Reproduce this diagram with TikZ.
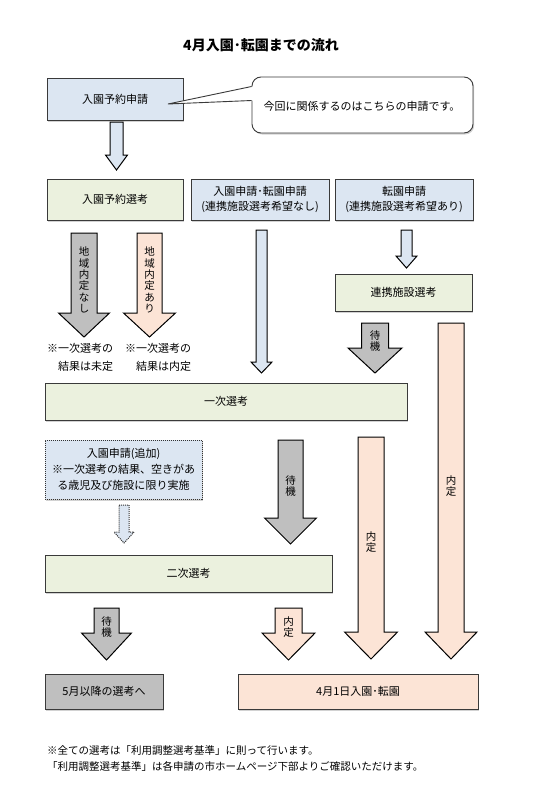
\documentclass[tikz,border=0pt]{standalone}
\usepackage{fontspec}
\setmainfont{Noto Sans CJK JP}
\usetikzlibrary{shadows}
\definecolor{bfill}{HTML}{DCE6F2}
\definecolor{gfill}{HTML}{EBF1DE}
\definecolor{ofill}{HTML}{FCE4D6}
\definecolor{kfill}{HTML}{BFBFBF}
\definecolor{edgec}{HTML}{3A3A3A}
\newcommand\blockarr[7]{%
  \draw[#1] ({#2-#3},#5) -- ({#2+#3},#5) -- ({#2+#3},#6) -- ({#2+#4},#6) -- (#2,#7) -- ({#2-#4},#6) -- ({#2-#3},#6) -- cycle;}
\begin{document}
\begin{tikzpicture}[x=1pt,y=-1pt,
  box/.style={draw=edgec, line width=0.9pt, inner sep=0pt, align=center,
    font=\fontsize{11}{15}\selectfont,
    drop shadow={shadow xshift=1.2pt, shadow yshift=-1.5pt, opacity=0.35}},
  bluebox/.style={box, fill=bfill},
  greenbox/.style={box, fill=gfill},
  orangebox/.style={box, fill=ofill},
  graybox/.style={box, fill=kfill},
  arr/.style={draw=black, line width=1pt, line join=miter},
  barr/.style={arr, fill=bfill},
  garr/.style={arr, fill=kfill},
  oarr/.style={arr, fill=ofill},
  darr/.style={draw=black!80, line width=1pt, densely dotted, fill=bfill},
  vtext/.style={inner sep=0pt, align=center, font=\fontsize{10.5}{11.3}\selectfont},
  note/.style={inner sep=0pt, align=left, anchor=west, font=\fontsize{11}{18}\selectfont},
]
\useasboundingbox (0,0) rectangle (556,800);
\fill[white] (0,0) rectangle (556,800);

% title
\node[font=\fontsize{14}{16}\selectfont\bfseries] (title) at (261,45) {4月入園･転園までの流れ};

% top row
\node[bluebox, minimum width=136pt, minimum height=42pt] (req) at (115,99) {入園予約申請};
\node[draw=edgec, line width=0.9pt, fill=white, rounded corners=9pt,
  minimum width=221pt, minimum height=56pt, inner sep=0pt,
  drop shadow={shadow xshift=1.2pt, shadow yshift=-1.5pt, opacity=0.35}]
  (callout) at (362.5,105) {};
\coordinate (ptip) at (168,104);
\fill[white] (ptip) -- (253.5,86.5) -- (253.5,100.5) -- cycle;
\draw[edgec, line width=0.9pt] (callout.west |- 0,86.5) -- (ptip) -- (callout.west |- 0,100.5);
\node[font=\fontsize{11}{13}\selectfont, inner sep=0pt] (calltext) at (362,106) {今回に関係するのはこちらの申請です。};

% arrow req -> sel1
\blockarr{barr}{116.5}{6.5}{11}{122}{155}{170}

% second row
\node[greenbox, minimum width=136pt, minimum height=41pt] (sel1) at (115,199.5) {入園予約選考};
\node[bluebox, minimum width=138pt, minimum height=41pt] (app2) at (260,199.5) {入園申請･転園申請\\(連携施設選考希望なし)};
\node[bluebox, minimum width=138pt, minimum height=41pt] (app3) at (404,199.5) {転園申請\\(連携施設選考希望あり)};

% arrows from sel1
\blockarr{garr}{84}{13}{25.5}{233}{313}{337}
\node[vtext] (t1) at (84,280) {地\\域\\内\\定\\な\\し};
\blockarr{oarr}{149.5}{12.5}{26}{233}{313}{337}
\node[vtext] (t2) at (149.5,280) {地\\域\\内\\定\\あ\\り};
\node[note] (n1) at (47,357) {※一次選考の\\　結果は未定};
\node[note] (n2) at (125,357) {※一次選考の\\　結果は内定};

% long blue arrow from app2
\blockarr{barr}{261.5}{5.5}{10.5}{230}{362}{373}
% small blue arrow from app3
\blockarr{barr}{406.5}{5.5}{10.5}{230}{256}{268}

\node[greenbox, minimum width=137pt, minimum height=37pt] (renkei) at (403.5,292.5) {連携施設選考};

% waiting arrow from renkei
\blockarr{garr}{375}{13.5}{27}{323}{348}{373}
\node[vtext] (t3) at (375,341) {待\\機};
% long orange arrow right
\blockarr{oarr}{451}{13}{26}{323}{632}{659}
\node[vtext] (t4) at (451,486) {内\\定};

\node[greenbox, minimum width=362pt, minimum height=37pt] (ichiji) at (226,401.5) {一次選考};

% additional application
\node[box, fill=bfill, draw=black!80, line width=1pt, densely dotted, minimum width=157pt, minimum height=59pt,
  font=\fontsize{11}{16}\selectfont] (tsuika) at (123.5,469.5) {入園申請(追加)\\※一次選考の結果、空きがあ\\る歳児及び施設に限り実施};
\blockarr{darr}{124}{5}{10}{505}{532}{543}

% middle waiting arrow
\blockarr{garr}{290.5}{12.5}{26}{440}{518}{544}
\node[vtext] (t5) at (290.5,486) {待\\機};
% middle orange arrow
\blockarr{oarr}{371}{13}{26.5}{437}{632}{659}
\node[vtext] (t6) at (371,542) {内\\定};

\node[greenbox, minimum width=287pt, minimum height=37pt] (niji) at (188.5,573.5) {二次選考};

% bottom arrows
\blockarr{garr}{106.5}{12.5}{25}{608}{633}{660}
\node[vtext] (t7) at (106.5,627) {待\\機};
\blockarr{oarr}{288.5}{13.5}{26.5}{608}{633}{660}
\node[vtext] (t8) at (288.5,627) {内\\定};

\node[graybox, minimum width=118pt, minimum height=35pt] (may) at (104,691.5) {5月以降の選考へ};
\node[orangebox, minimum width=240pt, minimum height=35pt] (apr) at (358,691.5) {4月1日入園･転園};

% footnote
\node[note, font=\fontsize{10.5}{17}\selectfont] (foot) at (47,758.5) {※全ての選考は「利用調整選考基準」に則って行います。\\「利用調整選考基準」は各申請の市ホームページ下部よりご確認いただけます。};
\end{tikzpicture}
\end{document}
